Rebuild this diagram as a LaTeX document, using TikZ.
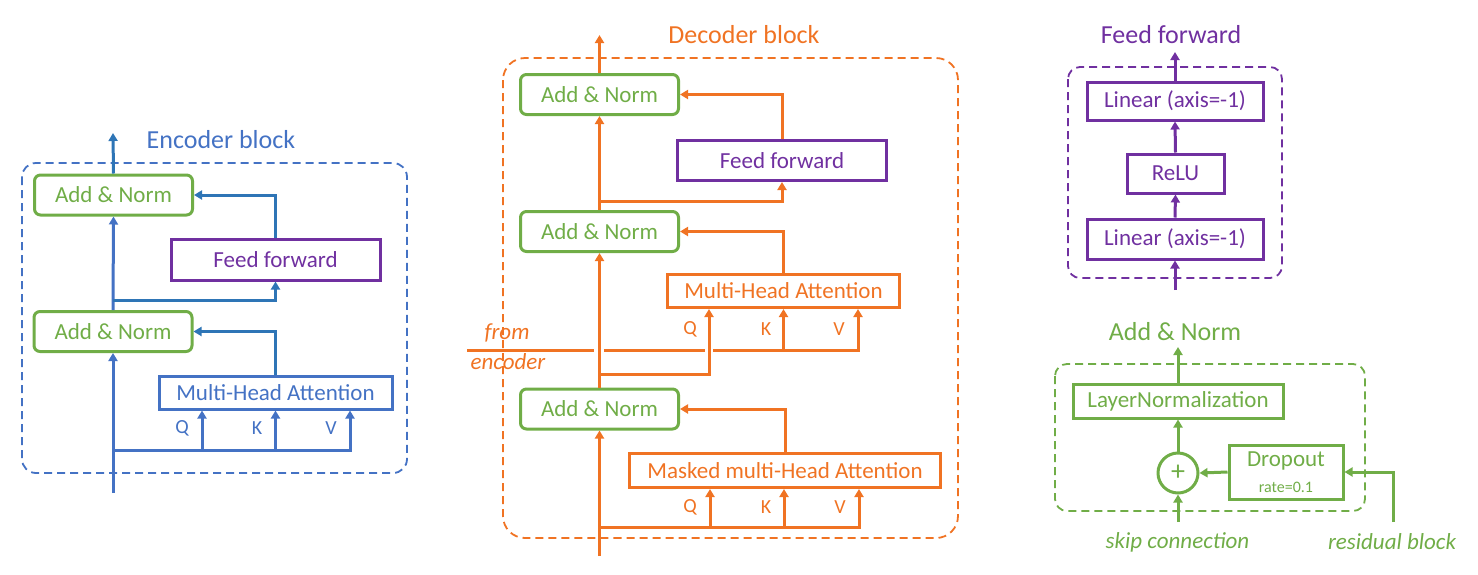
\documentclass[tikz,border=0pt]{standalone}
\usepackage{fontspec}
\setmainfont{Carlito}
\usetikzlibrary{arrows.meta}
\definecolor{cgreen}{HTML}{70AD47}
\definecolor{cblue}{HTML}{4472C4}
\definecolor{cbluedk}{HTML}{2E75B6}
\definecolor{corange}{HTML}{F07323}
\definecolor{cpurple}{HTML}{7030A0}
\begin{document}
\begin{tikzpicture}[x=1pt,y=-1pt,
  txt/.style={font=\fontsize{23}{27}\selectfont, inner sep=0pt},
  ttl/.style={font=\fontsize{26}{30}\selectfont, inner sep=0pt},
  sml/.style={font=\fontsize{20}{24}\selectfont, inner sep=0pt},
  itl/.style={font=\fontsize{23}{27}\selectfont\itshape, inner sep=0pt},
  box/.style={draw, line width=3pt, inner sep=0pt, txt},
  anbox/.style={box, draw=cgreen, text=cgreen, rounded corners=6pt, minimum width=158pt, minimum height=40pt},
  frame/.style={dashed, dash pattern=on 8pt off 5pt, line width=1.8pt},
  con/.style={line width=3pt, -{Triangle[length=8pt,width=9pt]}},
  ln/.style={line width=3pt},
]
\useasboundingbox (0,0) rectangle (1478,574);

% ================= Encoder =================
\draw[frame, cblue, rounded corners=14pt] (22,163) rectangle (407,473);
\node[ttl, text=cblue] (enct) at (221,140) {Encoder block};
\node[anbox] (ean2) at (113.5,195) {Add \& Norm};
\node[anbox] (ean1) at (113,331.5) {Add \& Norm};
\node[box, draw=cpurple, text=cpurple, minimum width=209pt, minimum height=41pt] (eff) at (275.5,259.5) {Feed forward};
\node[box, draw=cblue, text=cblue, minimum width=233pt, minimum height=33pt] (emha) at (275.5,392.5) {Multi-Head Attention};
\coordinate (ein) at (113,493);
\coordinate (eout) at (113,133);
\coordinate (ebr) at (113,300);
\coordinate (eqkv) at (113,450);
\coordinate (eq) at (202,450);
\coordinate (ek) at (275.5,450);
\coordinate (ev) at (350,450);
\draw[con, cblue] (ein) -- (ean1.south);
\draw[con, cblue] (ean1.north) -- (ean2.south);
\draw[con, cbluedk] (ean2.north) -- (eout);
\draw[con, cbluedk] (ebr) -| (eff.south);
\draw[con, cbluedk] (eff.north) |- (ean2.east);
\draw[con, cbluedk] (emha.north) |- (ean1.east);
\draw[con, cblue] (eqkv) -| (ev |- emha.south);
\draw[con, cblue] (eq) -- (eq |- emha.south);
\draw[con, cblue] (ek) -- (ek |- emha.south);
\node[sml, text=cblue] (eql) at (182,428) {Q};
\node[sml, text=cblue] (ekl) at (257,428) {K};
\node[sml, text=cblue] (evl) at (331,428) {V};

% ================= Decoder =================
\draw[frame, corange, rounded corners=22pt] (503,58) rectangle (958,538);
\node[ttl, text=corange] (dect) at (744,35) {Decoder block};
\node[anbox] (dan3) at (599.5,94.5) {Add \& Norm};
\node[anbox] (dan2) at (599.5,231.5) {Add \& Norm};
\node[anbox] (dan1) at (599.5,409) {Add \& Norm};
\node[box, draw=cpurple, text=cpurple, minimum width=209pt, minimum height=40pt] (dff) at (782,160.5) {Feed forward};
\node[box, draw=corange, text=corange, minimum width=232pt, minimum height=33pt] (dmha) at (783.5,291) {Multi-Head Attention};
\node[box, draw=corange, text=corange, minimum width=311pt, minimum height=34pt] (dmmha) at (785,470.5) {Masked multi-Head Attention};
\coordinate (din) at (599.5,556);
\coordinate (dout) at (599.5,35);
\coordinate (dbr2) at (599.5,201);
\coordinate (dbr1) at (599.5,374);
\coordinate (dqkv) at (599.5,527);
\coordinate (dq1) at (710,527);
\coordinate (dk1) at (784,527);
\coordinate (dv1) at (859,527);
\coordinate (dq2) at (709,374);
\coordinate (fe) at (467,350);
\coordinate (fg1) at (594,350);
\coordinate (fg2) at (604,350);
\coordinate (fg3) at (705,350);
\coordinate (fg4) at (713,350);
\coordinate (dk2) at (783.5,350);
\coordinate (dv2) at (858,350);
\draw[con, corange] (din) -- (dan1.south);
\draw[con, corange] (dan1.north) -- (dan2.south);
\draw[con, corange] (dan2.north) -- (dan3.south);
\draw[con, corange] (dan3.north) -- (dout);
\draw[con, corange] (dbr2) -| (dff.south);
\draw[con, corange] (dff.north) |- (dan3.east);
\draw[con, corange] (dmha.north) |- (dan2.east);
\draw[con, corange] (dmmha.north) |- (dan1.east);
\draw[con, corange] (dqkv) -| (dv1 |- dmmha.south);
\draw[con, corange] (dq1) -- (dq1 |- dmmha.south);
\draw[con, corange] (dk1) -- (dk1 |- dmmha.south);
\draw[con, corange] (dbr1) -| (dq2 |- dmha.south);
\draw[ln, corange] (fe) -- (fg1);
\draw[ln, corange] (fg2) -- (fg3);
\draw[con, corange] (fg4) -| (dv2 |- dmha.south);
\draw[con, corange] (dk2) -- (dk2 |- dmha.south);
\node[sml, text=corange] (dql2) at (690,329) {Q};
\node[sml, text=corange] (dkl2) at (766,329) {K};
\node[sml, text=corange] (dvl2) at (839,329) {V};
\node[sml, text=corange] (dql1) at (690,507) {Q};
\node[sml, text=corange] (dkl1) at (766,507) {K};
\node[sml, text=corange] (dvl1) at (840,507) {V};
\node[itl, text=corange] (from) at (507,333) {from};
\node[itl, text=corange] (encd) at (508,362) {encoder};

% ================= Feed forward =================
\draw[frame, cpurple, rounded corners=12pt] (1068,67) rectangle (1282,278);
\node[ttl, text=cpurple] (fft) at (1171,35) {Feed forward};
\node[box, draw=cpurple, text=cpurple, minimum width=176pt, minimum height=38pt] (flin2) at (1175,101) {Linear (axis=-1)};
\node[box, draw=cpurple, text=cpurple, minimum width=97pt, minimum height=39pt] (frelu) at (1175.5,173.5) {ReLU};
\node[box, draw=cpurple, text=cpurple, minimum width=176pt, minimum height=40pt] (flin1) at (1175,239) {Linear (axis=-1)};
\coordinate (fin) at (1175,290);
\coordinate (fout) at (1175,52);
\draw[con, cpurple] (fin) -- (flin1.south);
\draw[con, cpurple] (flin1.north) -- (frelu.south);
\draw[con, cpurple] (frelu.north) -- (flin2.south);
\draw[con, cpurple] (flin2.north) -- (fout);

% ================= Add & Norm =================
\draw[frame, cgreen, rounded corners=12pt] (1055,364) rectangle (1365,511);
\node[ttl, text=cgreen] (ant) at (1175,332) {Add \& Norm};
\node[box, draw=cgreen, text=cgreen, minimum width=210pt, minimum height=34pt] (aln) at (1178,401) {LayerNormalization};
\node[box, circle, draw=cgreen, text=cgreen, minimum size=40pt, font=\fontsize{28}{30}\selectfont] (aplus) at (1178,473) {+};
\node[box, draw=cgreen, minimum width=114pt, minimum height=54pt] (adrop) at (1286,472) {};
\node[txt, text=cgreen] (adt) at (1286,461) {Dropout};
\node[font=\fontsize{16}{19}\selectfont, inner sep=0pt, text=cgreen] (adr) at (1286,487) {rate=0.1};
\coordinate (askip) at (1178,522);
\coordinate (ares) at (1393,522);
\coordinate (aout) at (1178,347);
\draw[con, cgreen] (askip) -- (aplus.south);
\draw[con, cgreen] (aplus.north) -- (aln.south);
\draw[con, cgreen] (aln.north) -- (aout);
\draw[con, cgreen] (adrop.west) -- (aplus.east);
\draw[con, cgreen] (ares) |- (adrop.east);
\node[itl, text=cgreen] (askl) at (1177.5,542) {skip connection};
\node[itl, text=cgreen] (aresl) at (1392,542) {residual block};
\end{tikzpicture}
\end{document}
